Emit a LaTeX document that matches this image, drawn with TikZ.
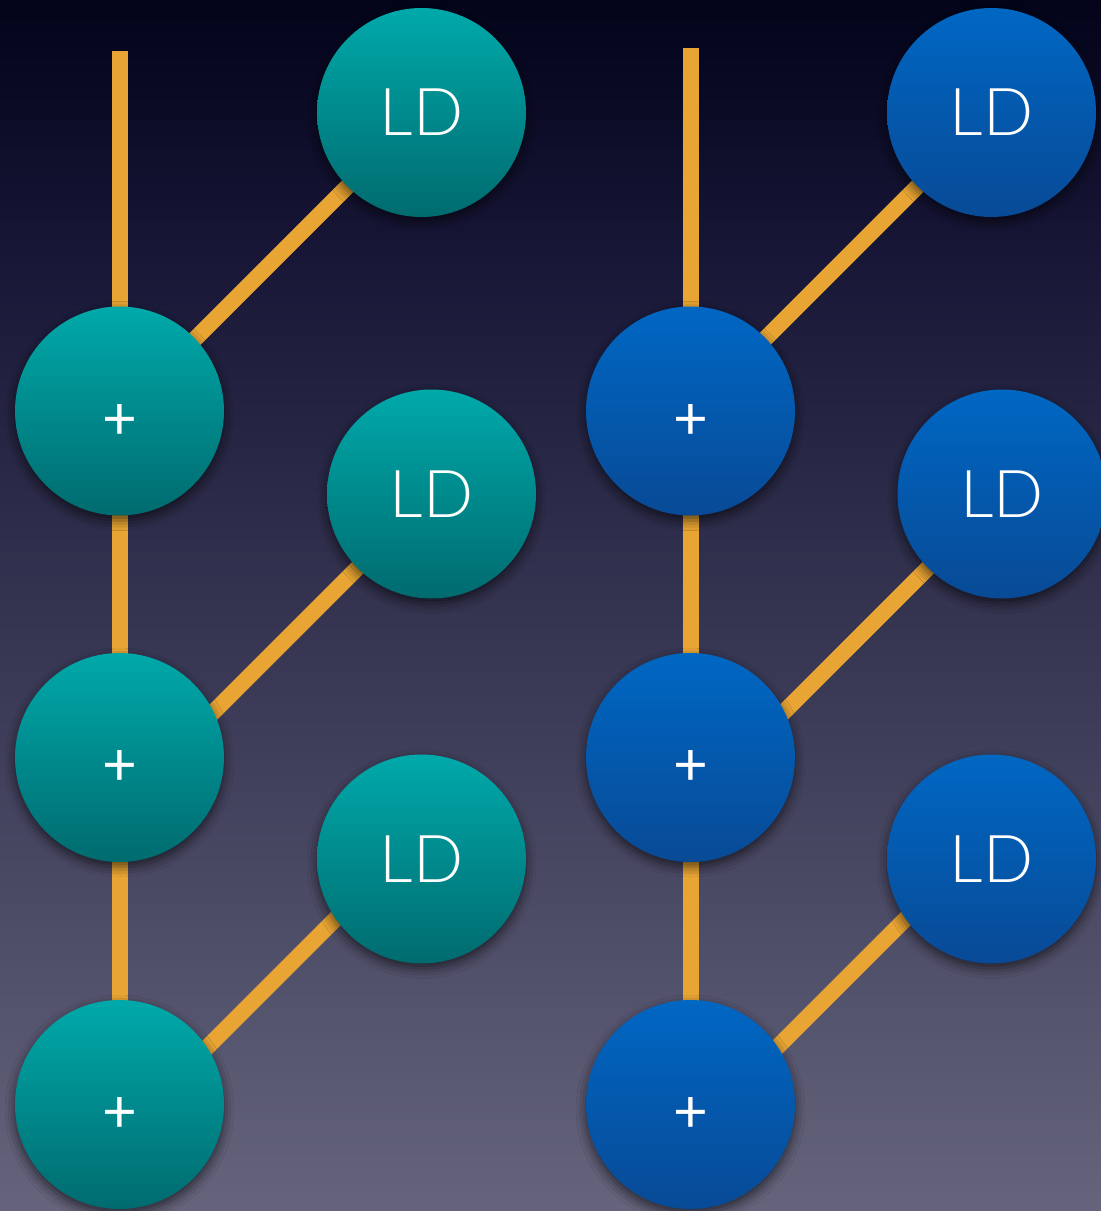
\documentclass[tikz,border=0pt]{standalone}
\usepackage{fontspec}
\setmainfont{Lato}[UprightFont={* Light}]
\newfontfamily\plusfont{Lato}
\usetikzlibrary{shadows.blur}

\definecolor{bgTop}{HTML}{03031A}
\definecolor{bgMid}{HTML}{171636}
\definecolor{bgBot}{HTML}{65647C}
\definecolor{tealTop}{HTML}{00A9AA}
\definecolor{tealBot}{HTML}{006B6F}
\definecolor{blueTop}{HTML}{0067C3}
\definecolor{blueBot}{HTML}{084A96}
\definecolor{wireCol}{HTML}{E8A533}

\tikzset{
  wire/.style={draw=wireCol, line width=16pt},
  disc/.style={circle, minimum size=209pt, inner sep=0pt, text=white,
    font=\fontsize{66}{66}\selectfont,
    blur shadow={shadow xshift=0pt, shadow yshift=-5pt,
      shadow blur radius=10pt, shadow opacity=60}},
  tealdisc/.style={disc, top color=tealTop, bottom color=tealBot},
  bluedisc/.style={disc, top color=blueTop, bottom color=blueBot},
  sumsign/.style={font=\plusfont\fontsize{60}{60}\selectfont},
}
% the sum sign sits a little below the disc centre
\newcommand{\sumsign}{\raisebox{-28pt}[0pt][0pt]{+}}

\begin{document}
\begin{tikzpicture}[x=1pt, y=-1pt]
  % backdrop
  \useasboundingbox (0,0) rectangle (1101,1211);
  \shade[top color=bgTop, bottom color=bgMid] (0,0) rectangle (1101,251);
  \shade[top color=bgMid, bottom color=bgBot] (0,250) rectangle (1101,1211);

  % free ends of the trunks
  \coordinate (ltop) at (119.5,51);
  \coordinate (rtop) at (690.5,48);

  % left chain: node positions
  \coordinate (lp1) at (119.5,411);
  \coordinate (lp2) at (119.5,757.5);
  \coordinate (lp3) at (119.5,1104.5);
  \coordinate (ll1) at (421.5,112.5);
  \coordinate (ll2) at (431.5,494);
  \coordinate (ll3) at (421.5,859);
  % right chain: node positions
  \coordinate (rp1) at (690.5,411);
  \coordinate (rp2) at (690.5,757.5);
  \coordinate (rp3) at (690.5,1104.5);
  \coordinate (rl1) at (991.5,112.5);
  \coordinate (rl2) at (1002,494);
  \coordinate (rl3) at (991.5,859);

  % connectors (drawn first so the discs cover their ends)
  \draw[wire] (ltop) -- (lp1) -- (lp2) -- (lp3);
  \draw[wire] (rtop) -- (rp1) -- (rp2) -- (rp3);
  \coordinate (lt1) at ([shift={(-292,292)}]ll1);
  \coordinate (lt2) at ([shift={(-292,292)}]ll2);
  \coordinate (ls3) at ([shift={(-13,-13)}]ll3);
  \coordinate (lt3) at ([shift={(-252,252)}]ls3);
  \coordinate (rt1) at ([shift={(-292,292)}]rl1);
  \coordinate (rt2) at ([shift={(-292,292)}]rl2);
  \coordinate (rs3) at ([shift={(-13,-13)}]rl3);
  \coordinate (rt3) at ([shift={(-252,252)}]rs3);
  \draw[wire] (ll1) -- (lt1);
  \draw[wire] (ll2) -- (lt2);
  \draw[wire] (ls3) -- (lt3);
  \draw[wire] (rl1) -- (rt1);
  \draw[wire] (rl2) -- (rt2);
  \draw[wire] (rs3) -- (rt3);

  % discs
  \node[tealdisc, sumsign] (nlp1) at (lp1) {\sumsign};
  \node[tealdisc, sumsign] (nlp2) at (lp2) {\sumsign};
  \node[tealdisc, sumsign] (nlp3) at (lp3) {\sumsign};
  \node[tealdisc] (nll1) at (ll1) {LD};
  \node[tealdisc] (nll2) at (ll2) {LD};
  \node[tealdisc] (nll3) at (ll3) {LD};
  \node[bluedisc, sumsign] (nrp1) at (rp1) {\sumsign};
  \node[bluedisc, sumsign] (nrp2) at (rp2) {\sumsign};
  \node[bluedisc, sumsign] (nrp3) at (rp3) {\sumsign};
  \node[bluedisc] (nrl1) at (rl1) {LD};
  \node[bluedisc] (nrl2) at (rl2) {LD};
  \node[bluedisc] (nrl3) at (rl3) {LD};
\end{tikzpicture}
\end{document}
